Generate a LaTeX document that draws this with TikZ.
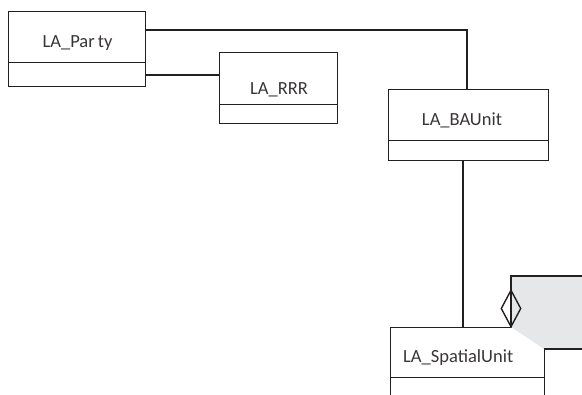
\documentclass[tikz,border=0pt]{standalone}
\usepackage{fontspec}
\setmainfont{Carlito}
\usetikzlibrary{shapes.geometric}
\definecolor{ink}{HTML}{231F20}
\definecolor{aggfill}{HTML}{E6E7E8}
\begin{document}
\begin{tikzpicture}[x=1pt,y=-1pt,
  box/.style={draw=ink,line width=1.4pt,rectangle,inner sep=0pt,anchor=north west},
  lbl/.style={font=\fontsize{18.5}{20}\selectfont,text=ink!90,inner sep=0pt},
  conn/.style={draw=ink,line width=1.4pt}]
\useasboundingbox (0,0) rectangle (582,395);
\clip (0,0) rectangle (582,395);
% classes
\node[box,minimum width=137pt,minimum height=51pt] (party) at (8,11) {};
\node[box,minimum width=137pt,minimum height=24pt] (partyb) at (8,62) {};
\node[box,minimum width=118pt,minimum height=52pt] (rrr) at (219,52) {};
\node[box,minimum width=118pt,minimum height=19pt] (rrrb) at (219,104) {};
\node[box,minimum width=160pt,minimum height=51pt] (ba) at (388,89) {};
\node[box,minimum width=160pt,minimum height=20pt] (bab) at (388,140) {};
\node[box,minimum width=154pt,minimum height=50pt] (sp) at (390,327) {};
\node[box,minimum width=154pt,minimum height=30pt] (spb) at (390,377) {};
% labels
\node[lbl,anchor=base] (tparty) at (77.5,47.5) {LA\_Par\,ty};
\node[lbl,anchor=base] (trrr) at (279,95) {LA\_RRR};
\node[lbl,anchor=base] (tba) at (462,126) {LA\_BAUnit};
\node[lbl,anchor=base west] (tsp) at (403,363) {LA\_SpatialUnit};
% connectors
\coordinate (c1) at (145,30);
\coordinate (c2) at (467,30);
\coordinate (c3) at (467,89);
\draw[conn] (c1) -- (c2) -- (c3);
\coordinate (c4) at (145,75);
\coordinate (c5) at (219,75);
\draw[conn] (c4) -- (c5);
\coordinate (c6) at (463,160);
\coordinate (c7) at (463,327);
\draw[conn] (c6) -- (c7);
% shaded aggregation region
\fill[aggfill] (511,276) -- (582,276) -- (582,349) -- (544,349) -- (511,327) -- cycle;
\coordinate (g1) at (511,276);
\coordinate (g2) at (584,276);
\coordinate (g3) at (511,327);
\coordinate (g4) at (544,349);
\coordinate (g5) at (584,349);
\draw[conn] (g3) -- (g1) -- (g2);
\draw[conn] (g4) -- (g5);
\node[draw=ink,line width=1.4pt,diamond,inner sep=0pt,minimum width=20pt,minimum height=37pt] (agg) at (511,308.5) {};
\end{tikzpicture}
\end{document}
